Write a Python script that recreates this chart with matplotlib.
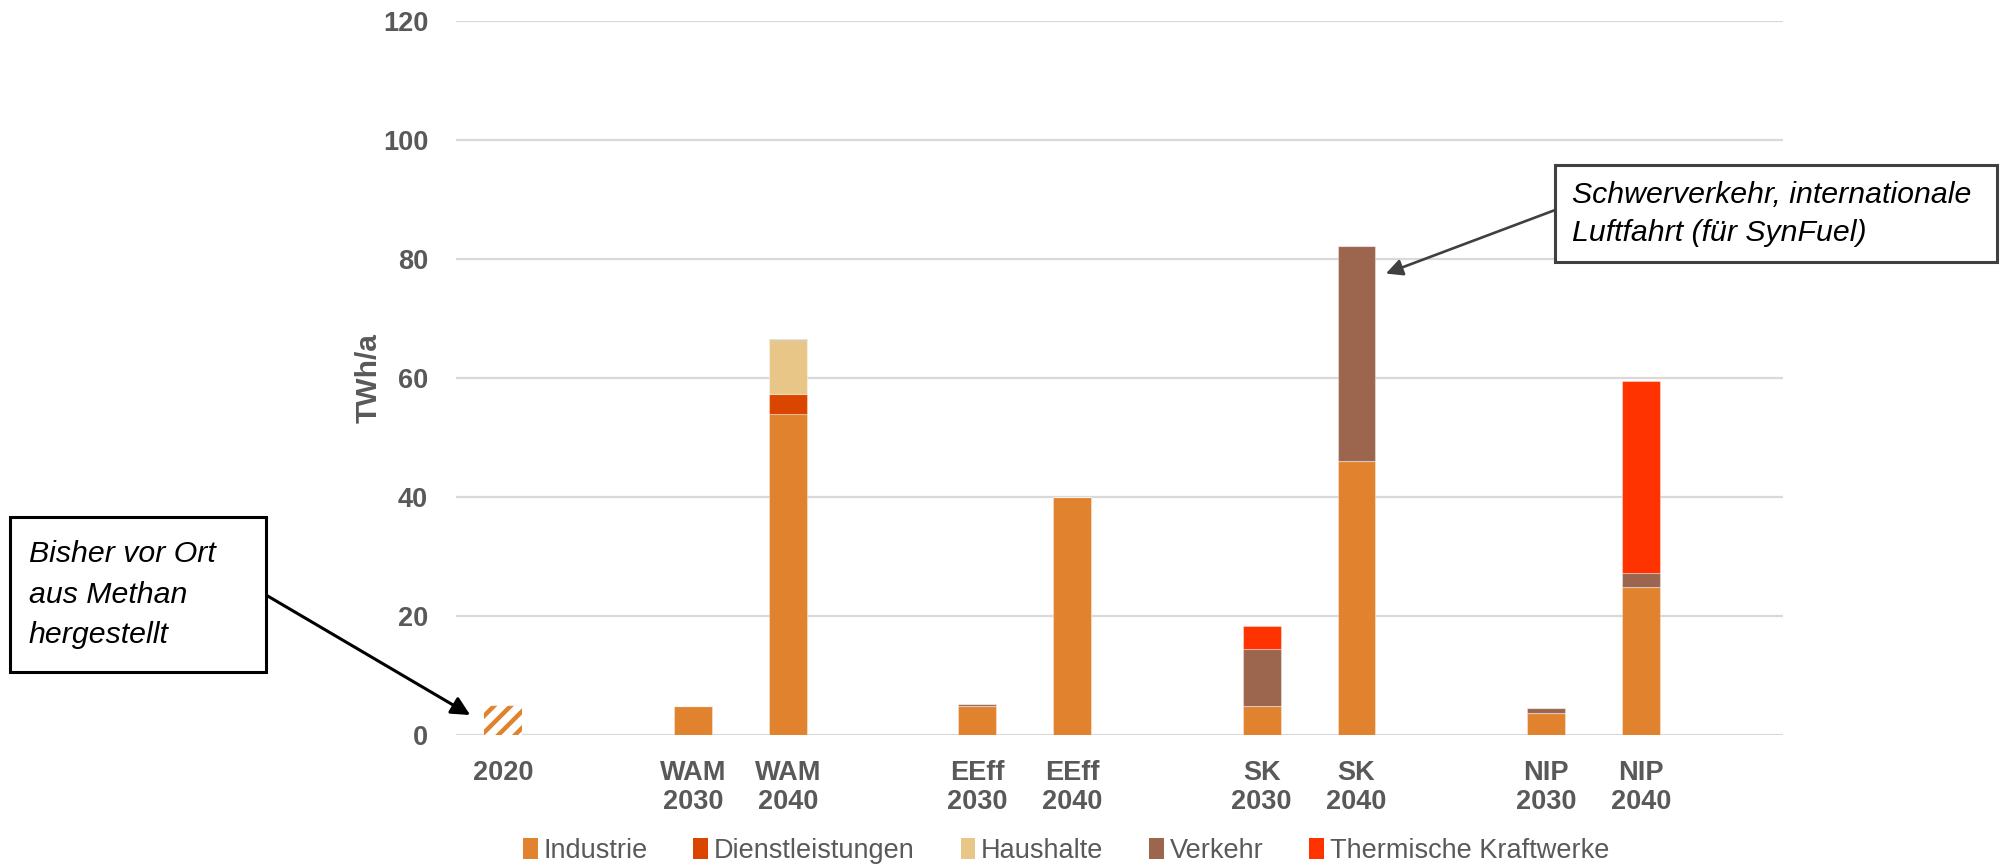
import matplotlib
matplotlib.use("Agg")
import matplotlib.pyplot as plt
from matplotlib.patches import Patch, Rectangle

plt.rcParams['font.family'] = ['Liberation Sans', 'DejaVu Sans']
plt.rcParams['hatch.linewidth'] = 3.2

# slots on the x axis, blank ones keep the gaps between scenarios
labels = ["2020", "", "WAM\n2030", "WAM\n2040", "", "EEff\n2030", "EEff\n2040", "",
          "SK\n2030", "SK\n2040", "", "NIP\n2030", "NIP\n2040", ""]

industrie = [5.1, 0, 5.0, 54.0, 0, 5.0, 40.1, 0, 5.0, 46.1, 0, 3.8, 25.0, 0]
dienstleistungen = [0, 0, 0, 3.4, 0, 0, 0, 0, 0, 0, 0, 0, 0, 0]
haushalte = [0, 0, 0, 9.0, 0, 0, 0, 0, 0, 0, 0, 0, 0, 0]
verkehr = [0, 0, 0, 0.2, 0, 0.2, 0, 0, 9.5, 36.1, 0, 0.8, 2.2, 0]
thermisch = [0, 0, 0, 0, 0, 0, 0, 0, 3.8, 0, 0, 0, 32.3, 0]

series = [
    ("Industrie", industrie, "#E0822E"),
    ("Dienstleistungen", dienstleistungen, "#DA4500"),
    ("Haushalte", haushalte, "#E8C687"),
    ("Verkehr", verkehr, "#9C664E"),
    ("Thermische Kraftwerke", thermisch, "#FF3300"),
]

grey = "#595959"

fig = plt.figure(figsize=(20, 8.68), dpi=100)
ax = fig.add_axes([0.228, 0.1529, 0.6635, 0.8226])

x = list(range(len(labels)))
bottom = [0.0] * len(labels)
containers = []
for name, vals, col in series:
    bars = ax.bar(x, vals, width=0.4, bottom=bottom, color=col,
                  edgecolor=(1, 1, 1, 0.35), linewidth=0.8, zorder=3)
    containers.append(bars)
    bottom = [b + v for b, v in zip(bottom, vals)]

# 2020: produced on site from methane -> hatched
first = containers[0].patches[0]
first.set_facecolor("white")
first.set_edgecolor("#E0822E")
first.set_linewidth(0)
first.set_hatch("//")

ax.set_xlim(-0.5, len(labels) - 0.5)
ax.set_ylim(0, 120)
ax.set_yticks(range(0, 121, 20))
ax.yaxis.grid(True, color="#D9D9D9", linewidth=1.6, zorder=0)
ax.set_axisbelow(True)
for s in ax.spines.values():
    s.set_visible(False)

tick_pos = [i for i, l in enumerate(labels) if l]
ax.set_xticks(tick_pos)
ax.set_xticklabels([labels[i] for i in tick_pos], fontsize=19.5, fontweight="bold",
                   color=grey, va="top", linespacing=1.15)
ax.tick_params(axis="x", length=0, pad=18)
ax.tick_params(axis="y", length=0, pad=20, labelsize=19.5, labelcolor=grey)
for t in ax.get_yticklabels():
    t.set_fontweight("bold")
ax.set_ylabel("TWh/a", fontsize=21.5, fontweight="bold", color=grey, labelpad=0)

handles = [Patch(facecolor=col, edgecolor="none") for _, _, col in series]
fig.legend(handles, [n for n, _, _ in series], loc="center",
           bbox_to_anchor=(0.533, 0.0195), ncol=5, frameon=False,
           fontsize=19.5, labelcolor=grey, handlelength=0.55, handleheight=0.8,
           handletextpad=0.2, columnspacing=1.7)

# note boxes with arrows
fig.add_artist(Rectangle((0.005, 0.2258), 0.128, 0.1786, transform=fig.transFigure,
                         facecolor="white", edgecolor="black", linewidth=2.2))
fig.text(0.0143, 0.315, "Bisher vor Ort\naus Methan\nhergestellt", fontsize=21.8,
         style="italic", color="black", va="center", ha="left", linespacing=1.55)
ax.annotate("", xy=(-0.35, 3.4), xycoords="data",
            xytext=(0.133, 0.3145), textcoords="figure fraction",
            arrowprops=dict(arrowstyle="-|>", color="black", lw=2.2,
                            mutation_scale=28, shrinkA=0, shrinkB=0))

fig.add_artist(Rectangle((0.7775, 0.698), 0.221, 0.112, transform=fig.transFigure,
                         facecolor="white", edgecolor="#404040", linewidth=2.2))
fig.text(0.786, 0.7535, "Schwerverkehr, internationale\nLuftfahrt (für SynFuel)",
         fontsize=21.8, style="italic", color="black", va="center", ha="left",
         linespacing=1.45)
ax.annotate("", xy=(9.31, 77.6), xycoords="data",
            xytext=(0.7775, 0.758), textcoords="figure fraction",
            arrowprops=dict(arrowstyle="-|>", color="#404040", lw=1.9,
                            mutation_scale=25, shrinkA=0, shrinkB=0))

fig.savefig("out.png", dpi=100, facecolor="white")
